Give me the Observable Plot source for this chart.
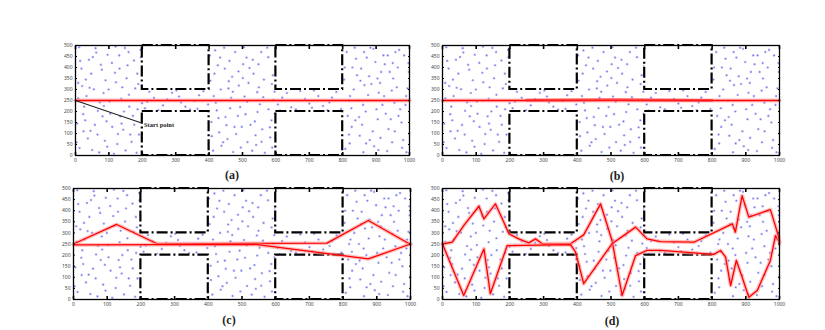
<!DOCTYPE html>
<html><head><meta charset="utf-8">
<script src="https://cdn.jsdelivr.net/npm/d3@7"></script>
<script src="https://cdn.jsdelivr.net/npm/@observablehq/plot@0.6"></script>
<style>
body{margin:0;background:#fff;}
#wrap{position:relative;width:825px;height:330px;overflow:hidden;background:#fff;}
.panel{position:absolute;}
.cap{position:absolute;font-family:"Liberation Serif","DejaVu Serif",serif;font-weight:bold;font-size:12px;color:#222;transform:translate(-50%,-50%);white-space:nowrap;}
</style></head><body><div id="wrap"></div>
<script>
// ---- data ----
const xTicks = [0,100,200,300,400,500,600,700,800,900,1000];
const yTicks = [0,50,100,150,200,250,300,350,400,450,500];
const panelLabels = ["(a)","(b)","(c)","(d)"];

// obstacles (dash-dot rectangles)
const obsX1 = [200,200,600,600];
const obsX2 = [400,400,800,800];
const obsY1 = [300,0,300,0];
const obsY2 = [500,200,500,200];

// sampled points in free space
const samplePoints = [
[12,34],[45,112],[88,67],[150,23],[176,140],[23,188],[67,203],[134,178],[190,95],[8,260],
[55,301],[102,245],[160,276],[31,345],[79,390],[121,333],[185,372],[14,430],[62,468],[109,421],
[148,489],[196,447],[37,77],[93,156],[127,98],[168,62],[5,145],[71,14],[115,8],[183,12],
[26,222],[84,284],[140,310],[199,238],[47,372],[96,458],[156,410],[11,492],[131,455],[179,305],
[58,139],[104,190],[143,117],[20,316],[73,241],[118,376],[161,222],[40,435],[90,342],[195,480],
[3,60],[66,95],[125,52],[172,180],[33,270],[99,300],[153,351],[18,395],[76,412],[137,258],
[188,325],[50,25],[110,130],[164,95],[29,160],[85,225],[145,200],[60,488],[120,495],[175,432],
[8,330],[95,40],[138,145],[42,308],[159,470],[24,110],[81,178],[132,395],[186,210],[52,448],
[412,22],[455,75],[498,130],[541,48],[587,160],[423,205],[466,262],[509,188],[552,233],[596,290],
[404,340],[447,395],[489,318],[533,372],[577,447],[418,478],[461,430],[504,492],[548,415],[591,365],
[430,105],[472,16],[515,61],[559,119],[583,82],[407,152],[449,175],[493,220],[537,155],[578,210],
[414,270],[458,305],[501,352],[544,288],[588,325],[426,410],[469,358],[512,445],[556,470],[599,408],
[437,44],[481,98],[524,140],[567,12],[408,88],[452,138],[495,36],[539,92],[582,128],[420,240],
[463,215],[506,268],[549,310],[593,252],[435,300],[478,470],[521,398],[564,345],[402,455],[445,490],
[488,382],[531,435],[574,490],[416,372],[459,338],[502,415],[545,198],[589,36],[428,170],[471,290],
[514,244],[557,62],[442,60],[486,180],[529,22],[476,130],[518,330],[562,265],[433,445],[597,190],
[808,30],[851,90],[894,42],[937,120],[981,70],[815,180],[858,140],[901,210],[944,165],[988,230],
[822,270],[865,320],[908,285],[951,350],[994,305],[829,400],[872,445],[915,380],[958,470],[997,420],
[836,490],[879,360],[922,455],[965,400],[804,345],[847,250],[890,110],[933,20],[976,150],[819,95],
[862,15],[905,165],[948,60],[991,15],[826,215],[869,200],[912,330],[955,240],[998,380],[833,300],
[876,275],[919,230],[962,310],[840,440],[883,490],[926,415],[969,480],[812,470],[855,395],[898,425],
[941,380],[984,455],[827,130],[870,55],[913,80],[956,110],[999,100],[818,250],[861,230],[904,350],
[947,295],[990,270],[843,365],[886,325],[929,190],[972,210],[806,400],[849,175],[892,485],[935,455],
[978,35],[821,55],[864,470],[907,25],[950,420],[838,160],[881,70],[924,270],[967,180],[853,340],
[208,215],[235,262],[262,228],[289,285],[316,241],[343,209],[370,274],[397,232],[221,290],[248,205],
[275,255],[302,296],[329,222],[356,248],[383,292],[215,244],[310,268],[365,212],
[606,232],[633,284],[660,210],[687,257],[714,296],[741,225],[768,263],[795,211],[619,263],[646,219],
[673,293],[700,236],[727,270],[754,205],[781,289],[612,204],[708,217],[760,241]
];

// (a) path + annotation
const aPathX = [0,1000];
const aPathY = [250,250];
const aArrowX = [0,200];
const aArrowY = [250,147];
const aLabel = "Start point";
const aLabelX = 205;
const aLabelY = 140;

// (b) paths
const bPathX = [0,1000];
const bPathY = [250,250];
const bBandX = [250,500,800];
const bBandY = [252,254,251];

// (c) paths
const cPath1X = [0,128,248,752,875,1000];
const cPath1Y = [250,338,251,254,356,248];
const cPath2X = [0,540,875,1000];
const cPath2Y = [246,248,183,250];

// (d) paths
const dPath1X = [0,29,63,108,123,157,182,197,226,256,276,296,380,419,469,503,533,573,607,647,805,825,840,855,872,889,909,934,973,988,1000];
const dPath1Y = [250,258,333,420,363,431,348,296,273,255,273,251,251,291,431,266,18,198,221,221,203,221,191,63,176,101,10,41,176,288,260];
const dPath2X = [0,63,123,142,192,380,395,419,503,573,607,647,746,860,869,889,909,973,998,1000];
const dPath2Y = [250,18,228,26,243,247,213,71,251,326,273,261,258,341,303,468,371,405,281,250];

// ---- layout ----
const layout = [
  {left:75, top:45, w:334, h:110, capX:232, capY:175},
  {left:442, top:45, w:337, h:110, capX:617, capY:176},
  {left:73, top:188, w:337, h:111, capX:229, capY:320},
  {left:442, top:188, w:337, h:111, capX:612, capY:321}
];
const mL = 40, mR = 10, mT = 15, mB = 22;

const pts = samplePoints.map(([x,y]) => ({x,y}));
const obstacles = obsX1.map((_,i) => ({x1:obsX1[i], x2:obsX2[i], y1:obsY1[i], y2:obsY2[i]}));

function redLine(xs, ys, core = 1.3) {
  const d = {length: xs.length};
  return [
    Plot.line(d, {x: xs, y: ys, stroke: "#ff8c8c", strokeWidth: core + 2.6, strokeOpacity: 0.55}),
    Plot.line(d, {x: xs, y: ys, stroke: "#ff0000", strokeWidth: core})
  ];
}

function panel(L, extra) {
  return Plot.plot({
    width: mL + L.w + mR,
    height: mT + L.h + mB,
    marginLeft: mL, marginRight: mR, marginTop: mT, marginBottom: mB,
    style: {background: "transparent", overflow: "visible"},
    x: {domain: [0, 1000], label: null},
    y: {domain: [0, 500], label: null},
    marks: [
      Plot.dot(pts, {x: "x", y: "y", r: 1.3, fill: "#7474ee", fillOpacity: 0.5, stroke: null}),
      Plot.dot(pts, {x: "x", y: "y", r: 0.6, fill: "#3b3be0", fillOpacity: 0.6, stroke: null}),
      Plot.rect(obstacles, {x1: "x1", x2: "x2", y1: "y1", y2: "y2", fill: "white", stroke: "black", strokeWidth: 2.2, strokeDasharray: "11,3,2,3"}),
      ...extra,
      Plot.frame({stroke: "black", strokeWidth: 1.3}),
      Plot.axisX({ticks: xTicks, tickSize: -3, tickPadding: 6, strokeWidth: 1.6, fontSize: 5, fill: "#444", label: null, tickFormat: d => String(d)}),
      Plot.axisX({anchor: "top", ticks: xTicks, tickSize: -3, strokeWidth: 1.6, label: null, tickFormat: () => ""}),
      Plot.axisY({ticks: yTicks, tickSize: -2, tickPadding: 5, fontSize: 5, fill: "#444", label: null, tickFormat: d => String(d)}),
      Plot.axisY({anchor: "right", ticks: yTicks, tickSize: -2, label: null, tickFormat: () => ""})
    ]
  });
}

const extras = [
  [
    ...redLine(aPathX, aPathY, 1.6),
    Plot.line({length: 2}, {x: aArrowX, y: aArrowY, stroke: "#222", strokeWidth: 1.1}),
    Plot.text([aLabel], {x: aLabelX, y: aLabelY, text: d => d, textAnchor: "start", fontSize: 6.5, fontWeight: "bold", fill: "#222", fontFamily: "Liberation Serif, serif"})
  ],
  [
    ...redLine(bPathX, bPathY, 1.6),
    Plot.line({length: bBandX.length}, {x: bBandX, y: bBandY, stroke: "#ff2020", strokeWidth: 2.8, strokeOpacity: 0.7})
  ],
  [
    ...redLine(cPath1X, cPath1Y),
    ...redLine(cPath2X, cPath2Y)
  ],
  [
    ...redLine(dPath1X, dPath1Y),
    ...redLine(dPath2X, dPath2Y)
  ]
];

const wrap = document.getElementById("wrap");
layout.forEach((L, i) => {
  const svg = panel(L, extras[i]);
  const div = document.createElement("div");
  div.className = "panel";
  div.style.left = (L.left - mL) + "px";
  div.style.top = (L.top - mT) + "px";
  div.appendChild(svg);
  wrap.appendChild(div);
  const cap = document.createElement("div");
  cap.className = "cap";
  cap.style.left = L.capX + "px";
  cap.style.top = L.capY + "px";
  cap.textContent = panelLabels[i];
  wrap.appendChild(cap);
});
</script></body></html>
